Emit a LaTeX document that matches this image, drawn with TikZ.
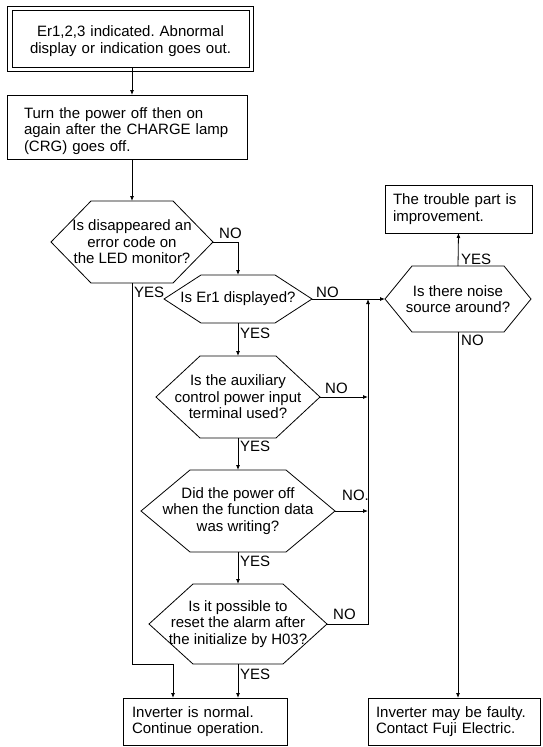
\documentclass[tikz,border=0pt]{standalone}
\usepackage{fontspec}
\setmainfont{Liberation Sans}
\usetikzlibrary{arrows.meta}
\frenchspacing
\newcommand\fcfont{\fontsize{15}{16.5}\selectfont}
\newcommand\hexnode[7]{% name, cx, cy, half width, half height, inset, text
  \draw[line] ({#2-#4},#3) -- ({#2-#4+#6},{#3-#5}) -- ({#2+#4-#6},{#3-#5}) -- ({#2+#4},#3)
     -- ({#2+#4-#6},{#3+#5}) -- ({#2-#4+#6},{#3+#5}) -- cycle;
  \node[hextext,minimum width={2*#4},minimum height={2*#5}] (#1) at (#2,#3) {#7};}
\newcommand\boxat[9]{% name, cx, cy, W, H, pad, text width, text height, text
  \node[boxnode,minimum width=#4pt,minimum height=#5pt,inner xsep=#6pt,text width=#7pt,text height=#8pt] (#1) at (#2,#3) {#9};}
\begin{document}
\frenchspacing
\begin{tikzpicture}[x=1pt,y=-1pt,
  line/.style={line width=0.8pt},
  arr/.style={line width=0.8pt,-{Latex[length=5pt,width=4pt]}},
  hextext/.style={inner sep=0pt,outer sep=0pt,align=center,font=\fcfont},
  boxnode/.style={draw,line width=0.8pt,inner ysep=0pt,outer sep=0pt,align=left,font=\fcfont},
  lbl/.style={inner sep=0pt,anchor=west,font=\fcfont}]
\useasboundingbox (0,0) rectangle (542,747);

% boxes
\node[draw,line width=0.8pt,inner sep=0pt,outer sep=0pt,align=center,font=\fcfont,
      minimum width=237pt,minimum height=57pt,text width=237pt,text height=16pt] (top) at (130.5,38.5)
      {Er1,2,3 indicated. Abnormal\\display or indication goes out.};
\draw[line] ([xshift=-5pt,yshift=4pt]top.north west) rectangle ([xshift=4pt,yshift=-4pt]top.south east);
\boxat{box2}{127}{127}{240}{64}{17}{206}{19}{Turn the power off then on\\again after the CHARGE lamp\\(CRG) goes off.}
\boxat{trouble}{458.5}{209}{147}{48}{8}{131}{11}{The trouble part is\\improvement.}
\boxat{normal}{205}{721.5}{164}{47}{9}{146}{11}{Inverter is normal.\\Continue operation.}
\boxat{faulty}{454}{721.5}{172}{47}{8}{156}{11}{Inverter may be faulty.\\Contact Fuji Electric.}

% decisions
\hexnode{h1}{132}{242}{81}{41}{40}{Is disappeared an\\error code on\\the LED monitor?}
\hexnode{h2}{238}{299}{74}{24}{37}{Is Er1 displayed?}
\hexnode{h3}{458}{299}{73}{33}{27}{Is there noise\\source around?}
\hexnode{h4}{238}{397}{82}{41}{44}{Is the auxiliary\\control power input\\terminal used?}
\hexnode{h5}{238}{511}{97}{41}{49}{Did the power off\\when the function data\\was writing?}
\hexnode{h6}{238}{624}{89}{40}{44}{Is it possible to\\reset the alarm after\\the initialize by H03?}

% connectors
\coordinate (cx) at (368,299);
\coordinate (j) at (173,664);
\draw[arr] (top.south -| h1.north) -- (box2.north -| h1.north);
\draw[arr] (box2.south -| h1.north) -- (h1.north);
\draw[arr] (h1.east) -| (h2.north);
\draw[arr] (h2.east) -- (h3.west);
\draw[arr] (h2.south) -- (h4.north);
\draw[arr] (h4.south) -- (h5.north);
\draw[arr] (h5.south) -- (h6.north);
\draw[arr] (h6.south) -- (normal.north -| h6.south);
\draw[arr] (h6.east) -| (cx);
\draw[arr] (h4.east) -- (h4.east -| cx);
\draw[arr] (h5.east) -- (h5.east -| cx);
\draw[arr] (h3.north) -- (trouble.south);
\draw[arr] (h3.south) -- (faulty.north -| h3.south);
\draw[arr] (h1.south) |- (j) -- (j |- normal.north);

% labels
\node[lbl] (l1n) at (219,233) {NO};
\node[lbl] (l1y) at (134,292) {YES};
\node[lbl] (l2n) at (316,292) {NO};
\node[lbl] (l2y) at (240,333) {YES};
\node[lbl] (l4n) at (325,388) {NO};
\node[lbl] (l4y) at (240,446) {YES};
\node[lbl] (l5n) at (342,495) {NO.};
\node[lbl] (l5y) at (240,561) {YES};
\node[lbl] (l6n) at (333,614) {NO};
\node[lbl] (l6y) at (240,674) {YES};
\node[lbl] (l3y) at (461,259) {YES};
\node[lbl] (l3n) at (461,340) {NO};
\end{tikzpicture}
\end{document}
